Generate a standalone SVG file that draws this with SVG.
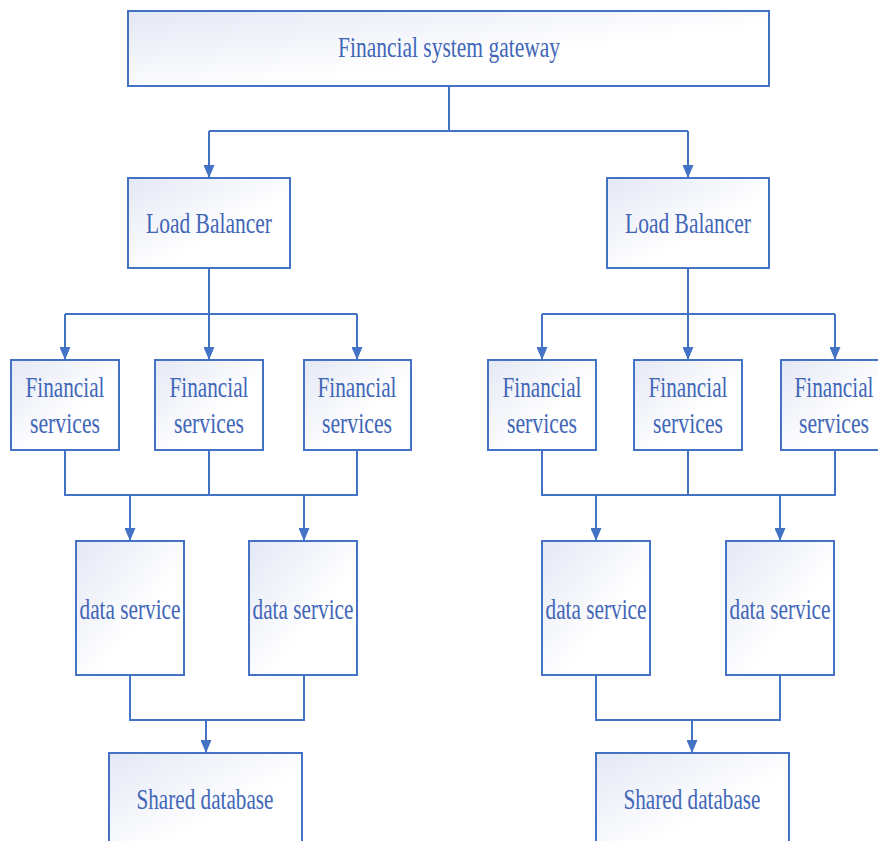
<svg xmlns="http://www.w3.org/2000/svg" width="878" height="841" viewBox="0 0 878 841">
<defs>
<linearGradient id="g" x1="0" y1="0" x2="1" y2="1">
<stop offset="0" stop-color="#E4E8F5"/>
<stop offset="0.6" stop-color="#FFFFFF"/>
<stop offset="1" stop-color="#FFFFFF"/>
</linearGradient>
<marker id="ah" viewBox="0 0 13 11" refX="13" refY="5.5" markerWidth="13" markerHeight="11" markerUnits="userSpaceOnUse" orient="auto">
<path d="M0,0 L13,5.5 L0,11 Z" fill="#4472C4"/>
</marker>
<style>
.box{fill:url(#g);stroke:#4472C4;stroke-width:2}
.t{font-family:'Liberation Serif','DejaVu Serif',serif;font-size:29px;fill:#4166B8;text-anchor:middle}
.c{fill:none;stroke:#4472C4;stroke-width:2}
.a{fill:none;stroke:#4472C4;stroke-width:2;marker-end:url(#ah)}
</style>
</defs>
<rect width="878" height="841" fill="#FFFFFF"/>
<g id="connectors">
<path class="c" d="M449,86 V131 H209 M449,131 H688"/>
<path class="a" d="M209,131 V178"/>
<path class="a" d="M688,131 V178"/>
<path class="c" d="M209,268 V314 M65,314 H357"/>
<path class="a" d="M65,314 V360"/>
<path class="a" d="M209,314 V360"/>
<path class="a" d="M357,314 V360"/>
<path class="c" d="M688,268 V314 M542,314 H835"/>
<path class="a" d="M542,314 V360"/>
<path class="a" d="M688,314 V360"/>
<path class="a" d="M835,314 V360"/>
<path class="c" d="M65,450 V495 H357 V450 M209,450 V495"/>
<path class="a" d="M130,495 V541"/>
<path class="a" d="M304,495 V541"/>
<path class="c" d="M542,450 V495 H835 V450 M688,450 V495"/>
<path class="a" d="M596,495 V541"/>
<path class="a" d="M780,495 V541"/>
<path class="c" d="M130,675 V720 H304 V675"/>
<path class="a" d="M206,720 V753"/>
<path class="c" d="M596,675 V720 H780 V675"/>
<path class="a" d="M692,720 V753"/>
</g>
<g id="gateway"><rect class="box" x="128" y="11" width="641" height="75"/><text class="t" font-family="Liberation Serif, serif" x="449" y="57" textLength="222" lengthAdjust="spacingAndGlyphs">Financial system gateway</text></g>
<g id="lb1"><rect class="box" x="128" y="178" width="162" height="90"/><text class="t" x="209" y="233" textLength="126" lengthAdjust="spacingAndGlyphs">Load Balancer</text></g>
<g id="lb2"><rect class="box" x="607" y="178" width="162" height="90"/><text class="t" x="688" y="233" textLength="126" lengthAdjust="spacingAndGlyphs">Load Balancer</text></g>
<g id="fs1"><rect class="box" x="11" y="360" width="108" height="90"/><text class="t" x="65" y="397" textLength="79" lengthAdjust="spacingAndGlyphs">Financial</text><text class="t" x="65" y="433" textLength="70" lengthAdjust="spacingAndGlyphs">services</text></g>
<g id="fs2"><rect class="box" x="155" y="360" width="108" height="90"/><text class="t" x="209" y="397" textLength="79" lengthAdjust="spacingAndGlyphs">Financial</text><text class="t" x="209" y="433" textLength="70" lengthAdjust="spacingAndGlyphs">services</text></g>
<g id="fs3"><rect class="box" x="304" y="360" width="107" height="90"/><text class="t" x="357" y="397" textLength="79" lengthAdjust="spacingAndGlyphs">Financial</text><text class="t" x="357" y="433" textLength="70" lengthAdjust="spacingAndGlyphs">services</text></g>
<g id="fs4"><rect class="box" x="488" y="360" width="108" height="90"/><text class="t" x="542" y="397" textLength="79" lengthAdjust="spacingAndGlyphs">Financial</text><text class="t" x="542" y="433" textLength="70" lengthAdjust="spacingAndGlyphs">services</text></g>
<g id="fs5"><rect class="box" x="634" y="360" width="108" height="90"/><text class="t" x="688" y="397" textLength="79" lengthAdjust="spacingAndGlyphs">Financial</text><text class="t" x="688" y="433" textLength="70" lengthAdjust="spacingAndGlyphs">services</text></g>
<g id="fs6"><rect class="box" x="781" y="360" width="108" height="90"/><text class="t" x="834" y="397" textLength="79" lengthAdjust="spacingAndGlyphs">Financial</text><text class="t" x="834" y="433" textLength="70" lengthAdjust="spacingAndGlyphs">services</text></g>
<g id="ds1"><rect class="box" x="76" y="541" width="108" height="134"/><text class="t" x="130" y="619" textLength="101" lengthAdjust="spacingAndGlyphs">data service</text></g>
<g id="ds2"><rect class="box" x="249" y="541" width="108" height="134"/><text class="t" x="303" y="619" textLength="101" lengthAdjust="spacingAndGlyphs">data service</text></g>
<g id="ds3"><rect class="box" x="542" y="541" width="108" height="134"/><text class="t" x="596" y="619" textLength="101" lengthAdjust="spacingAndGlyphs">data service</text></g>
<g id="ds4"><rect class="box" x="726" y="541" width="108" height="134"/><text class="t" x="780" y="619" textLength="101" lengthAdjust="spacingAndGlyphs">data service</text></g>
<g id="db1"><rect class="box" x="109" y="753" width="193" height="100"/><text class="t" x="205" y="809" textLength="137" lengthAdjust="spacingAndGlyphs">Shared database</text></g>
<g id="db2"><rect class="box" x="596" y="753" width="193" height="100"/><text class="t" x="692" y="809" textLength="137" lengthAdjust="spacingAndGlyphs">Shared database</text></g>
</svg>
